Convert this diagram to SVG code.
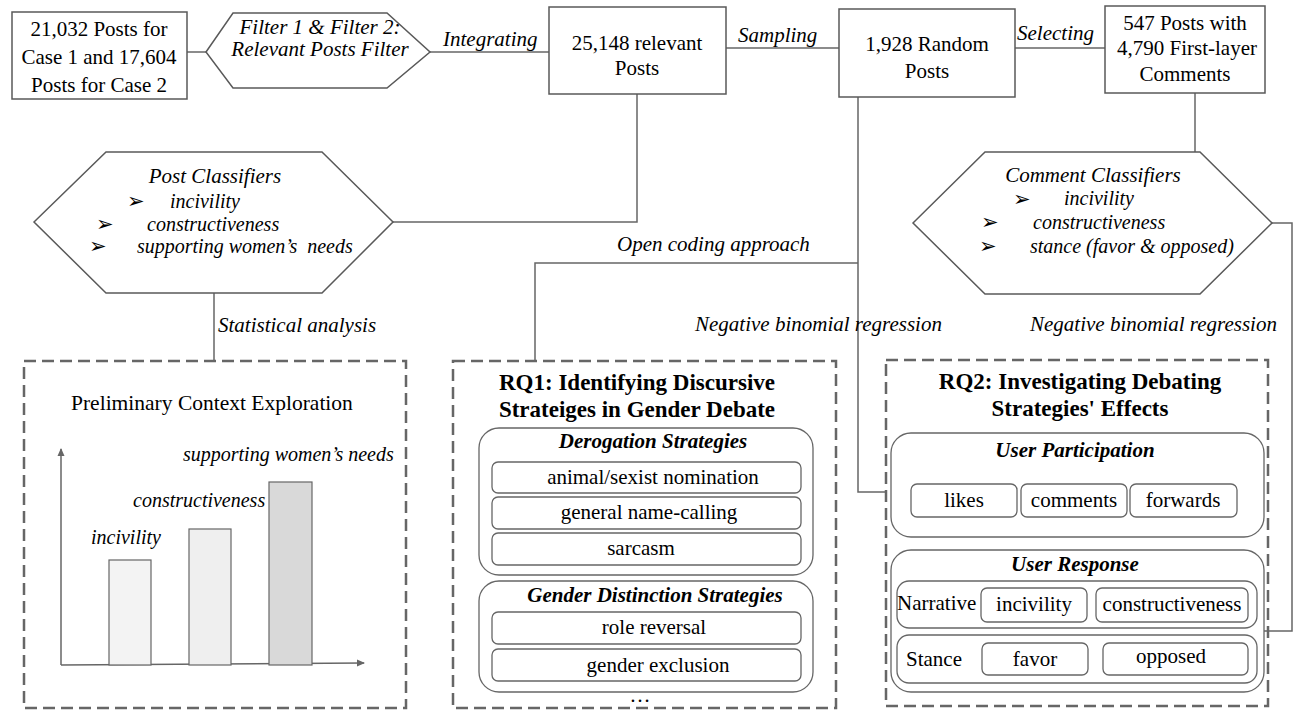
<svg xmlns="http://www.w3.org/2000/svg" width="1293" height="711" viewBox="0 0 1293 711">
<style>
text{font-family:"Liberation Serif","Times New Roman",serif;fill:#000;font-size:21px}
.it{font-style:italic}
.b{font-weight:bold}
.bi{font-weight:bold;font-style:italic}
.m{text-anchor:middle}
.box{fill:#fff;stroke:#595959;stroke-width:1.5}
.dash{fill:none;stroke:#666;stroke-width:2.5;stroke-dasharray:12 6}
.rr{fill:#fff;stroke:#666;stroke-width:1.3}
.ln{fill:none;stroke:#666;stroke-width:1.5}
.ar{font-family:"DejaVu Sans",sans-serif;font-size:21px}
.ci{font-size:20px;font-style:italic}
.cl{font-size:20px;font-style:italic}
</style>
<defs>
<marker id="ah" markerWidth="8" markerHeight="8" refX="7" refY="4" orient="auto" markerUnits="userSpaceOnUse">
<path d="M0,0.5 L8,4 L0,7.5 Z" fill="#666"/>
</marker>
</defs>
<rect width="1293" height="711" fill="#fff"/>

<g id="connectors">
<line class="ln" x1="187" y1="52" x2="206" y2="52"/>
<line class="ln" x1="430" y1="52" x2="549" y2="52"/>
<line class="ln" x1="726" y1="48" x2="839" y2="48"/>
<line class="ln" x1="1015" y1="48" x2="1105" y2="48"/>
<polyline class="ln" points="637,94 637,222 393,222"/>
<line class="ln" x1="214" y1="293" x2="214" y2="361"/>
<polyline class="ln" points="858,97 858,492 886,492"/>
<polyline class="ln" points="858,263 535,263 535,361"/>
<line class="ln" x1="1195" y1="93" x2="1195" y2="152"/>
<polyline class="ln" points="1272,223 1292,223 1292,631 1264,631"/>
<text class="it" x="443" y="46">Integrating</text>
<text class="it" x="738" y="42">Sampling</text>
<text class="it" x="1017" y="40">Selecting</text>
<text class="it" x="218" y="332">Statistical analysis</text>
<text class="it" x="617" y="251">Open coding approach</text>
<text class="it" x="695" y="331">Negative binomial regression</text>
<text class="it" x="1030" y="331">Negative binomial regression</text>
</g>

<g id="n-raw">
<rect class="box" x="12" y="12" width="175" height="87"/>
<text class="m" x="99" y="36">21,032 Posts for</text>
<text class="m" x="99" y="64">Case 1 and 17,604</text>
<text class="m" x="99" y="92">Posts for Case 2</text>
</g>

<g id="n-filter">
<polygon class="box" points="206,52 233,13 387,13 430,52 387,88 233,88"/>
<text class="it m" x="320" y="34">Filter 1 &amp; Filter 2:</text>
<text class="it m" x="320" y="56">Relevant Posts Filter</text>
</g>

<g id="n-relevant">
<rect class="box" x="549" y="7" width="177" height="87"/>
<text class="m" x="637" y="50">25,148 relevant</text>
<text class="m" x="637" y="75">Posts</text>
</g>

<g id="n-random">
<rect class="box" x="839" y="9" width="176" height="88"/>
<text class="m" x="927" y="51">1,928 Random</text>
<text class="m" x="927" y="78">Posts</text>
</g>

<g id="n-comments">
<rect class="box" x="1105" y="6" width="160" height="87"/>
<text class="m" x="1185" y="30">547 Posts with</text>
<text class="m" x="1187" y="55">4,790 First-layer</text>
<text class="m" x="1185" y="81">Comments</text>
</g>

<g id="n-post-classifiers">
<polygon class="box" points="34,222 106,152 322,152 393,222 322,293 106,293"/>
<text class="it m" x="215" y="183">Post Classifiers</text>
<text class="ar" x="127" y="208">➢</text>
<text class="ci" x="170" y="208">incivility</text>
<text class="ar" x="96" y="231">➢</text>
<text class="ci" x="147" y="231">constructiveness</text>
<text class="ar" x="89" y="253">➢</text>
<text class="ci" x="137" y="253" style="white-space:pre">supporting women’s  needs</text>
</g>

<g id="n-comment-classifiers">
<polygon class="box" points="913,223 985,152 1200,152 1272,223 1200,294 985,294"/>
<text class="it m" x="1093" y="182">Comment Classifiers</text>
<text class="ar" x="1013" y="206">➢</text>
<text class="ci" x="1064" y="205">incivility</text>
<text class="ar" x="981" y="229">➢</text>
<text class="ci" x="1033" y="229">constructiveness</text>
<text class="ar" x="979" y="253">➢</text>
<text class="ci" x="1030" y="253">stance (favor &amp; opposed)</text>
</g>

<g id="n-preliminary">
<rect class="dash" x="24" y="361" width="382" height="347"/>
<text x="71" y="410" style="font-size:21.5px">Preliminary Context Exploration</text>
<line x1="61" y1="665" x2="61" y2="449" stroke="#666" stroke-width="1.5" marker-end="url(#ah)"/>
<line x1="61" y1="665" x2="364" y2="663" stroke="#666" stroke-width="1.5" marker-end="url(#ah)"/>
<rect x="109" y="560" width="42" height="105" fill="#f3f3f3" stroke="#666" stroke-width="1.2"/>
<rect x="189" y="529" width="42" height="136" fill="#efefef" stroke="#666" stroke-width="1.2"/>
<rect x="269" y="482" width="43" height="183" fill="#d9d9d9" stroke="#666" stroke-width="1.2"/>
<text class="cl" x="91" y="544">incivility</text>
<text class="cl" x="133" y="507">constructiveness</text>
<text class="cl" x="183" y="461">supporting women’s needs</text>
</g>

<g id="n-rq1">
<rect class="dash" x="453" y="361" width="383" height="347"/>
<text class="b m" x="637" y="390" style="font-size:23px">RQ1: Identifying Discursive</text>
<text class="b m" x="637" y="417" style="font-size:23px">Strateiges in Gender Debate</text>
<rect class="rr" x="479" y="428" width="334" height="147" rx="20"/>
<text class="bi m" x="653" y="448">Derogation Strategies</text>
<rect class="rr" x="492" y="462" width="309" height="31" rx="6"/>
<text class="m" x="653" y="484">animal/sexist nomination</text>
<rect class="rr" x="492" y="497" width="309" height="32" rx="6"/>
<text class="m" x="649" y="519">general name-calling</text>
<rect class="rr" x="492" y="533" width="309" height="32" rx="6"/>
<text class="m" x="641" y="555">sarcasm</text>
<rect class="rr" x="479" y="581" width="334" height="111" rx="20"/>
<text class="bi m" x="655" y="602">Gender Distinction Strategies</text>
<rect class="rr" x="492" y="612" width="309" height="32" rx="6"/>
<text class="m" x="654" y="634">role reversal</text>
<rect class="rr" x="492" y="649" width="309" height="32" rx="6"/>
<text class="m" x="658" y="672">gender exclusion</text>
<text class="m" x="640" y="702">…</text>
</g>

<g id="n-rq2">
<rect class="dash" x="886" y="360" width="382" height="346"/>
<text class="b m" x="1080" y="389" style="font-size:23px">RQ2: Investigating Debating</text>
<text class="b m" x="1080" y="416" style="font-size:23px">Strategies' Effects</text>
<rect class="rr" x="891" y="433" width="373" height="104" rx="20"/>
<text class="bi m" x="1075" y="457">User Participation</text>
<rect class="rr" x="911" y="484" width="106" height="33" rx="6"/>
<text class="m" x="964" y="507">likes</text>
<rect class="rr" x="1021" y="484" width="106" height="33" rx="6"/>
<text class="m" x="1074" y="507">comments</text>
<rect class="rr" x="1130" y="484" width="107" height="33" rx="6"/>
<text class="m" x="1183" y="507">forwards</text>
<rect class="rr" x="891" y="550" width="373" height="142" rx="20"/>
<text class="bi m" x="1075" y="571">User Response</text>
<rect class="rr" x="897" y="581" width="360" height="47" rx="12"/>
<text x="897" y="610">Narrative</text>
<rect class="rr" x="981" y="588" width="106" height="34" rx="6"/>
<text class="m" x="1034" y="611">incivility</text>
<rect class="rr" x="1096" y="588" width="152" height="34" rx="6"/>
<text class="m" x="1172" y="611">constructiveness</text>
<rect class="rr" x="897" y="635" width="360" height="48" rx="12"/>
<text x="906" y="666">Stance</text>
<rect class="rr" x="982" y="643" width="106" height="32" rx="6"/>
<text class="m" x="1035" y="666">favor</text>
<rect class="rr" x="1103" y="643" width="145" height="32" rx="6"/>
<text class="m" x="1171" y="663">opposed</text>
</g>
</svg>
